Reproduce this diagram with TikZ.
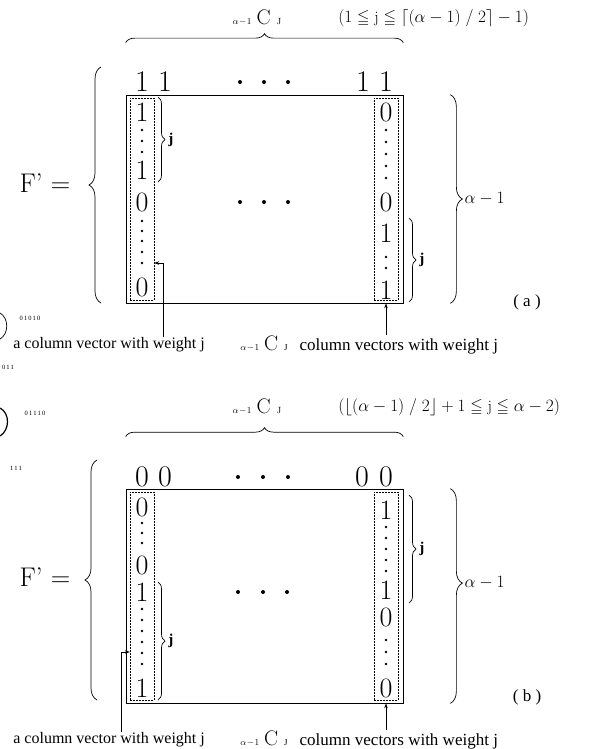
\documentclass[tikz,border=0pt]{standalone}
\usepackage{amssymb}
\usepackage{fontspec}
\newfontfamily\tnr{Liberation Serif}
\usetikzlibrary{decorations.pathreplacing,arrows.meta}
\newcommand\digsize{\fontsize{28}{28}\selectfont}
\newcommand\nCj[1]{{\fontsize{9}{9}\selectfont$\alpha\!-\!1$}\hspace{5pt}{\rmfamily\fontsize{#1}{#1}\selectfont C}\hspace{6pt}{\fontsize{9}{9}\selectfont J}}
\begin{document}
\begin{tikzpicture}[x=1pt,y=-1pt,line width=.7pt,
  digit/.style={inner sep=0pt,font=\digsize},
  topdigit/.style={inner sep=0pt,font=\fontsize{30}{30}\selectfont},
  colbox/.style={draw,line width=.4pt,dash pattern=on 2pt off 1pt,inner sep=0pt,minimum width=24},
  matbox/.style={draw,inner sep=0pt,minimum width=277},
  brc/.style={decorate,decoration={brace,amplitude=#1}},brc/.default=10,
  ptr/.style={-{Stealth[length=5pt,width=3.5pt]},line width=.6pt},
  note/.style={font=\tnr\fontsize{16}{16}\selectfont,inner sep=0pt},
  cond/.style={font=\fontsize{16}{16}\selectfont,inner sep=0pt},
  jlab/.style={font=\tnr\bfseries\fontsize{15}{15}\selectfont,inner sep=0pt},
  bleed/.style={font=\tnr\fontsize{6.5}{6.5}\selectfont,inner sep=0pt}]
\useasboundingbox (0,0) rectangle (596,749);
% (a)
\node[inner sep=0pt] (aTop) at (257,18) {\nCj{21}};
\node[cond,anchor=west] (aCond) at (338,18) {$(1\leqq\mathrm{j}\leqq\lceil(\alpha-1)\;/\;2\rceil-1)$};
\node[matbox,minimum height=208] (aM) at (264.5,199) {};
\node[colbox,minimum height=202] (aLbox) at (142,199) {};
\node[colbox,minimum height=202] (aRbox) at (386,199) {};
\draw[brc=9] ([yshift=52pt]aM.north west) -- ([yshift=52pt]aM.north east);
\foreach \x [count=\i] in {142,165,363,386} \node[topdigit] (aT\i) at (\x,82) {1};
\foreach \x in {240,264,288} \fill (\x,82) circle (2);
\foreach \y/\v [count=\i] in {112/1,170/1,202/0,287/0} \node[digit] (aLe\i) at (142,\y) {\v};
\foreach \y in {130,141,152,221,231,241,252,263} \fill (142,\y) circle (1.3);
\foreach \y/\v [count=\i] in {112/0,202/0,233/1,290/1} \node[digit] (aRe\i) at (386,\y) {\v};
\foreach \y in {130,142,154,166,178,257,268} \fill (386,\y) circle (1.3);
\foreach \x in {240,264,288} \fill (\x,202) circle (2);
\draw[brc=7] (158,97) -- (158,182) node[jlab,midway,right=10pt] (aLj) {j};
\draw[brc=7] (409,218) -- (409,302) node[jlab,midway,right=10pt] (aRj) {j};
\draw[brc=12] ([xshift=47pt]aM.north east) -- ([xshift=47pt]aM.south east)
  node[midway,right=14pt,inner sep=0pt,font=\fontsize{19}{19}\selectfont] (aH) {$\alpha-1$};
\draw[brc=12] (101,303) -- (101,67);
\node[inner sep=0pt,font=\fontsize{27}{27}\selectfont] (aF) at (45,183) {F’ =};
\node[note,font=\tnr\fontsize{17}{17}\selectfont] (aTag) at (527,302) {( a )};
\node[note,anchor=west] (aLtxt) at (13,345) {a column vector with weight j};
\node[note,anchor=west,font=\tnr\fontsize{17}{17}\selectfont] (aRtxt) at (240,345) {\nCj{21}\hspace{12pt}column vectors with weight j};
\draw[ptr] (aLtxt.north -| 163,0) |- (aLbox.east |- 0,263);
\draw[ptr] (aRbox.south |- aRtxt.north) -- (aM.south -| aRbox.south);
% (b)
\node[inner sep=0pt] (bTop) at (257,407) {\nCj{21}};
\node[cond,anchor=west] (bCond) at (338,407) {$(\lfloor(\alpha-1)\;/\;2\rfloor+1\leqq\mathrm{j}\leqq\alpha-2)$};
\node[matbox,minimum height=214] (bM) at (264.5,596) {};
\node[colbox,minimum height=208] (bLbox) at (142,596) {};
\node[colbox,minimum height=208] (bRbox) at (386,596) {};
\draw[brc=9] ([yshift=52pt]bM.north west) -- ([yshift=52pt]bM.north east);
\foreach \x [count=\i] in {142,165,362,386} \node[topdigit] (bT\i) at (\x,477) {0};
\foreach \x in {238,263,288} \fill (\x,477) circle (2);
\foreach \y/\v [count=\i] in {507/0,565/0,592/1,688/1} \node[digit] (bLe\i) at (142,\y) {\v};
\foreach \y in {523,533,543,609,620,631,642,653,664} \fill (142,\y) circle (1.3);
\foreach \y/\v [count=\i] in {510/1,590/1,617/0,688/0} \node[digit] (bRe\i) at (386,\y) {\v};
\foreach \y in {527,538,549,560,571,640,652,664} \fill (386,\y) circle (1.3);
\foreach \x in {238,263,287} \fill (\x,592) circle (2);
\draw[brc=7] (158,582) -- (158,700) node[jlab,midway,right=10pt] (bLj) {j};
\draw[brc=7] (409,495) -- (409,603) node[jlab,midway,right=10pt] (bRj) {j};
\draw[decorate,decoration={brace,amplitude=12,aspect=.44}] ([xshift=47pt]bM.north east) -- ([xshift=47pt]bM.south east)
  node[pos=.44,right=14pt,inner sep=0pt,font=\fontsize{19}{19}\selectfont] (bH) {$\alpha-1$};
\draw[brc=12] (97,700) -- (97,460);
\node[inner sep=0pt,font=\fontsize{27}{27}\selectfont] (bF) at (45,577) {F’ =};
\node[note,font=\tnr\fontsize{17}{17}\selectfont] (bTag) at (527,697) {( b )};
\node[note,anchor=west] (bLtxt) at (13,740) {a column vector with weight j};
\node[note,anchor=west,font=\tnr\fontsize{17}{17}\selectfont] (bRtxt) at (240,740) {\nCj{21}\hspace{12pt}column vectors with weight j};
\draw[ptr] (bLtxt.north -| 121,0) |- (bLbox.west |- 0,652);
\draw[ptr] (bRbox.south |- bRtxt.north) -- (bM.south -| bRbox.south);
% cut-off marks at the left edge
\draw (0,313) .. controls (9,318) and (9,334) .. (0,339);
\node[bleed] (s1) at (30,318) {0\,1\,0\,1\,0};
\node[bleed] (s2) at (8,367) {0\,1\,1};
\draw[line width=1.2pt] (0,408) .. controls (10,413) and (10,430) .. (0,436);
\node[bleed] (s3) at (35,413) {0\,1\,1\,1\,0};
\node[bleed] (s4) at (16,468) {1\,1\,1};
\end{tikzpicture}
\end{document}
